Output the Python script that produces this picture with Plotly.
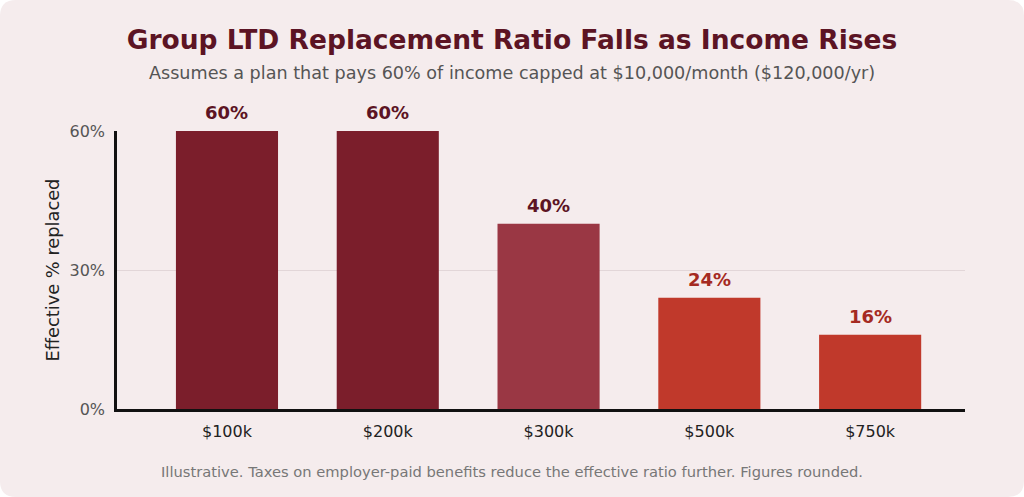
import plotly.graph_objects as go

# data
incomes = ["$100k", "$200k", "$300k", "$500k", "$750k"]
ratios = [60, 60, 40, 24, 16]
bar_colors = ["#7B1E2B", "#7B1E2B", "#9A3744", "#C0392B", "#C0392B"]
label_colors = ["#5C1424", "#5C1424", "#5C1424", "#A52A22", "#A52A22"]

W, H = 1024, 497
ml, mr, mt, mb = 117, 59, 131, 88
pw, ph = W - ml - mr, H - mt - mb

fig = go.Figure()

fig.add_trace(go.Bar(
    x=incomes,
    y=ratios,
    marker=dict(color=bar_colors, line=dict(width=0)),
    width=0.635,
    hoverinfo="skip",
))

# rounded card behind everything (paper coords)
def px2x(p):
    return (p - ml) / pw

def px2y(p):
    return (H - mb - p) / ph

r = 16
x0, x1 = px2x(0), px2x(W)
y0, y1 = px2y(0), px2y(H)  # y0 top, y1 bottom
rx, ry = r / pw, r / ph
card = (
    f"M {x0 + rx},{y0} L {x1 - rx},{y0} Q {x1},{y0} {x1},{y0 - ry} "
    f"L {x1},{y1 + ry} Q {x1},{y1} {x1 - rx},{y1} "
    f"L {x0 + rx},{y1} Q {x0},{y1} {x0},{y1 + ry} "
    f"L {x0},{y0 - ry} Q {x0},{y0} {x0 + rx},{y0} Z"
)
fig.add_shape(type="path", path=card, xref="paper", yref="paper",
              fillcolor="#F5ECED", line=dict(width=0), layer="below")

fig.update_layout(
    width=W,
    height=H,
    margin=dict(l=ml, r=mr, t=mt, b=mb),
    paper_bgcolor="white",
    plot_bgcolor="rgba(0,0,0,0)",
    font=dict(family="DejaVu Sans", color="#333333"),
    showlegend=False,
    title=dict(
        text="<b>Group LTD Replacement Ratio Falls as Income Rises</b>",
        x=0.5, xref="container", xanchor="center",
        y=1 - 40 / H, yref="container", yanchor="middle",
        font=dict(size=26.5, color="#5C1424"),
    ),
    xaxis=dict(
        range=[-0.684, 4.59],
        showline=True, linecolor="#111111", linewidth=2.5,
        ticks="", showgrid=False, ticklabelstandoff=6,
        tickfont=dict(size=16, color="#222222"),
        fixedrange=True,
    ),
    yaxis=dict(
        range=[0, 60],
        tickvals=[0, 30, 60],
        ticktext=["0%", "30%", "60%"],
        showline=True, linecolor="#111111", linewidth=2.5,
        showgrid=True, gridcolor="#E2D6D8", gridwidth=1,
        zeroline=False, ticks="", ticklabelstandoff=6,
        tickfont=dict(size=16, color="#555555"),
        title=dict(text="Effective % replaced", font=dict(size=17.8, color="#222222"), standoff=6),
        fixedrange=True,
    ),
)

# value labels above each bar
for cat, val, col in zip(incomes, ratios, label_colors):
    fig.add_annotation(x=cat, y=val, text=f"<b>{val}%</b>", showarrow=False,
                       yanchor="bottom", yshift=6,
                       font=dict(family="DejaVu Sans", size=18, color=col))

fig.add_annotation(
    text="Assumes a plan that pays 60% of income capped at $10,000/month ($120,000/yr)",
    x=px2x(W / 2), xref="paper", xanchor="center",
    y=px2y(73), yref="paper", yanchor="middle",
    showarrow=False, font=dict(size=17.6, color="#555555"))
fig.add_annotation(
    text="Illustrative. Taxes on employer-paid benefits reduce the effective ratio further. Figures rounded.",
    x=px2x(W / 2), xref="paper", xanchor="center",
    y=px2y(471), yref="paper", yanchor="middle",
    showarrow=False, font=dict(size=14.7, color="#777777"))

fig.write_html("out.html", config={"displayModeBar": False},
               post_script="document.body.style.margin='0';")
